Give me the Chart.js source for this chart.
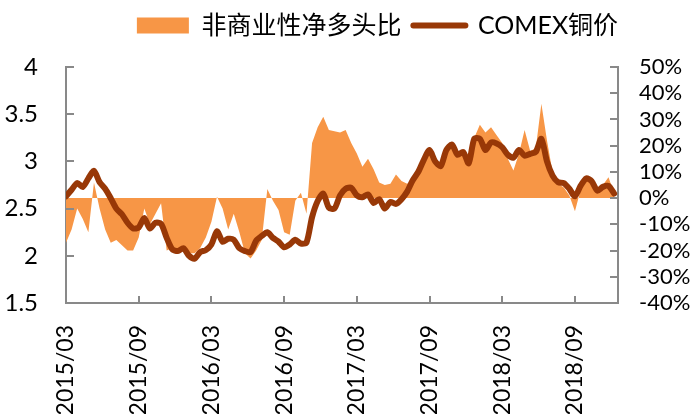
<!DOCTYPE html>
<html>
<head>
<meta charset="utf-8">
<script src="https://cdn.jsdelivr.net/npm/chart.js@4.4.0/dist/chart.umd.min.js"></script>
<style>
  html, body { margin: 0; padding: 0; background: #fff; }
</style>
</head>
<body>
<canvas id="chart" width="699" height="414"></canvas>
<script>
// x axis: one sample every ~2 weeks, label every 13 samples (6 months)
const tickLabels = ["2015/03", "2015/09", "2016/03", "2016/09", "2017/03", "2017/09", "2018/03", "2018/09"];
const tickEvery = 13;

// COMEX铜价 (left axis)
const copperPrice = [
  2.63, 2.70, 2.77, 2.73, 2.82, 2.90, 2.78, 2.71, 2.61, 2.50,
  2.44, 2.35, 2.29, 2.30, 2.40, 2.29, 2.35, 2.34, 2.19, 2.07,
  2.05, 2.08, 2.00, 1.97, 2.04, 2.06, 2.12, 2.26, 2.15, 2.18,
  2.17, 2.08, 2.05, 2.04, 2.16, 2.21, 2.25, 2.19, 2.15, 2.09,
  2.12, 2.17, 2.13, 2.14, 2.41, 2.58, 2.66, 2.51, 2.50, 2.64,
  2.71, 2.72, 2.64, 2.62, 2.65, 2.56, 2.60, 2.50, 2.57, 2.55,
  2.60, 2.68, 2.80, 2.89, 3.02, 3.12, 3.00, 2.95, 3.12, 3.18,
  3.07, 3.10, 2.98, 3.24, 3.24, 3.12, 3.20, 3.19, 3.15, 3.07,
  3.04, 3.12, 3.06, 3.08, 3.10, 3.24, 3.00, 2.85, 2.78, 2.77,
  2.71, 2.63, 2.74, 2.82, 2.79, 2.69, 2.73, 2.74, 2.66
];

// 非商业性净多头比, % (right axis)
const netLongRatio = [
  -17, -12, -4, -8, -13, 6, -4, -12, -17, -16,
  -18, -20, -20, -15, -4, -10, -6, -2, -20, -19,
  -20, -20, -21, -21, -19, -15, -9, 0.5, -4, -12,
  -6, -13, -21, -23, -20, -16, 3.5, -1, -4.5, -13,
  -14, -1, 2, -6, 21, 27, 31, 26, 25.5, 25,
  26, 21, 17, 12, 15, 11, 6, 5, 5.5, 9,
  6.5, 5.5, 7, 10, 13, 18, 15, 13, 18, 20,
  16, 17.5, 14, 23, 28, 25, 27, 24, 21, 15,
  10.5, 17, 26, 18, 19, 36, 22, 10, 5.5, 4,
  1, -5, 3, 7, 7, 3.5, 5, 8, 2
];

const areaColor = "#F79646";
const lineColor = "#983807";
const axisColor = "#898989";

Chart.defaults.font.family = "Lato, 'Noto Sans CJK SC', sans-serif";
Chart.defaults.color = "#000";

// excel style tick marks pointing into the plot
const innerTicks = {
  id: "innerTicks",
  afterDraw(chart) {
    const { ctx, chartArea: area, scales } = chart;
    ctx.save();
    ctx.strokeStyle = axisColor;
    ctx.lineWidth = 2;
    ctx.beginPath();
    scales.x.ticks.forEach((t) => {
      const px = Math.round(scales.x.getPixelForValue(t.value));
      ctx.moveTo(px, area.bottom);
      ctx.lineTo(px, area.bottom - 7);
    });
    scales.y.ticks.forEach((t) => {
      const py = Math.round(scales.y.getPixelForValue(t.value));
      ctx.moveTo(area.left, py);
      ctx.lineTo(area.left + 8, py);
    });
    scales.y1.ticks.forEach((t) => {
      const py = Math.round(scales.y1.getPixelForValue(t.value));
      ctx.moveTo(area.right, py);
      ctx.lineTo(area.right - 8, py);
    });
    ctx.stroke();
    ctx.restore();
  },
};

// more room under the legend, and nudge it right a bit
const legendSpace = {
  id: "legendSpace",
  beforeInit(chart) {
    const fit = chart.legend.fit;
    chart.legend.fit = function () {
      fit.call(this);
      this.height += 19;
    };
  },
  beforeDraw(chart) {
    chart.legend.left += 28;
    chart.legend.right += 28;
  },
  afterDraw(chart) {
    chart.legend.left -= 28;
    chart.legend.right -= 28;
  },
};

const ctx = document.getElementById("chart").getContext("2d");
new Chart(ctx, {
  type: "line",
  data: {
    datasets: [
      {
        label: "非商业性净多头比",
        data: netLongRatio.map((v, i) => ({ x: i, y: v })),
        yAxisID: "y1",
        fill: "origin",
        backgroundColor: areaColor,
        borderWidth: 0,
        pointRadius: 0,
        tension: 0,
        order: 2,
      },
      {
        label: "COMEX铜价",
        data: copperPrice.map((v, i) => ({ x: i, y: v })),
        yAxisID: "y",
        borderColor: lineColor,
        backgroundColor: lineColor,
        borderWidth: 6,
        borderJoinStyle: "round",
        borderCapStyle: "round",
        pointRadius: 0,
        tension: 0.25,
        fill: false,
        order: 1,
      },
    ],
  },
  options: {
    responsive: false,
    animation: false,
    devicePixelRatio: 1,
    layout: { padding: { top: 1, left: 0, right: 0, bottom: 0 } },
    plugins: {
      tooltip: { enabled: false },
      legend: {
        position: "top",
        labels: {
          font: { size: 25 },
          color: "#000",
          padding: 12,
          usePointStyle: true,
          pointStyleWidth: 52,
          boxWidth: 52,
          boxHeight: 16,
          sort: (a, b) => a.datasetIndex - b.datasetIndex,
          generateLabels(chart) {
            return chart.data.datasets.map((ds, i) => ({
              text: ds.label,
              datasetIndex: i,
              fontColor: "#000",
              pointStyle: i === 0 ? "rect" : "line",
              fillStyle: i === 0 ? areaColor : lineColor,
              strokeStyle: i === 0 ? areaColor : lineColor,
              lineWidth: i === 0 ? 0 : 6,
              lineCap: "round",
              hidden: false,
            }));
          },
        },
      },
    },
    scales: {
      x: {
        type: "linear",
        min: 0,
        max: 98.7,
        grid: { display: false },
        border: { display: true, color: axisColor, width: 2 },
        afterBuildTicks(scale) {
          scale.ticks = tickLabels.map((_, k) => ({ value: k * tickEvery }));
        },
        afterFit(scale) {
          scale.height = 111;
        },
        ticks: {
          autoSkip: false,
          minRotation: 90,
          maxRotation: 90,
          padding: 14,
          font: { size: 23 },
          callback: (v) => tickLabels[Math.round(v / tickEvery)],
        },
      },
      y: {
        position: "left",
        min: 1.5,
        max: 4,
        grid: { display: false },
        border: { display: true, color: axisColor, width: 2 },
        afterFit(scale) {
          scale.width = 66;
        },
        ticks: {
          autoSkip: false,
          stepSize: 0.5,
          padding: 20,
          font: { size: 24 },
          callback: (v) => String(v),
        },
      },
      y1: {
        position: "right",
        min: -40,
        max: 50,
        grid: { display: false },
        border: { display: true, color: axisColor, width: 2 },
        afterFit(scale) {
          scale.width = 81;
        },
        ticks: {
          autoSkip: false,
          stepSize: 10,
          padding: 13,
          font: { size: 22 },
          callback: (v) => v + "%",
        },
      },
    },
  },
  plugins: [innerTicks, legendSpace],
});
</script>
</body>
</html>
